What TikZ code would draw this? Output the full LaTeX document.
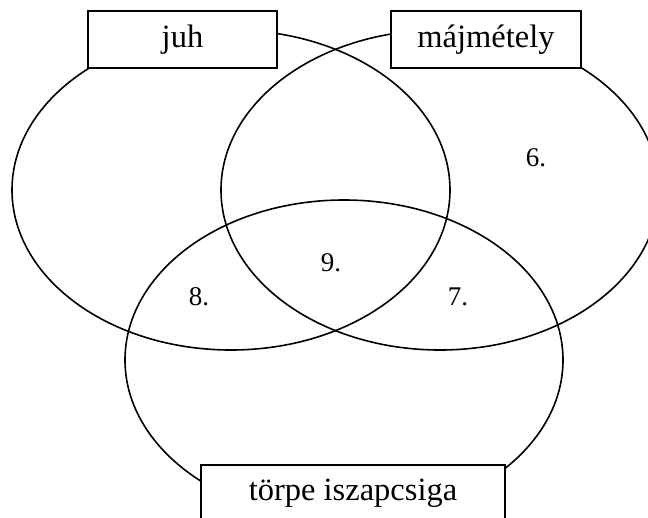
\documentclass[tikz,border=0pt]{standalone}
\usepackage{fontspec}
\setmainfont{Liberation Serif}
\begin{document}
\begin{tikzpicture}[x=1pt,y=-1pt]

\tikzstyle{every node}=[font=\fontsize{32.5}{38}\selectfont]
\tikzstyle{setline}=[line width=1.6pt]
\tikzstyle{namebox}=[draw,line width=1.6pt,fill=white,minimum height=57pt,inner sep=0pt]
\tikzstyle{region}=[font=\fontsize{27}{32}\selectfont]

\clip (0,0) rectangle (648,517);

\pgfmathsetmacro\rx{219}
\pgfmathsetmacro\ry{160}

% the three sets
\draw[setline] (231,190) ellipse ({\rx} and {\ry});
\draw[setline] (440,190) ellipse ({\rx} and {\ry});
\draw[setline] (344,360) ellipse ({\rx} and {\ry});

% names of the sets
\node[namebox,minimum width=189pt] (juh) at (182.5,39.5) {juh};
\node[namebox,minimum width=190pt] (majmetely) at (486,39.5) {májmétely};
\node[namebox,minimum width=304pt] (torpe) at (353,493.5) {törpe iszapcsiga};

% numbered regions
\node[region] (r6) at (536,158) {6.};
\node[region] (r9) at (331,263) {9.};
\node[region] (r8) at (199,297) {8.};
\node[region] (r7) at (458,297) {7.};

\end{tikzpicture}
\end{document}
